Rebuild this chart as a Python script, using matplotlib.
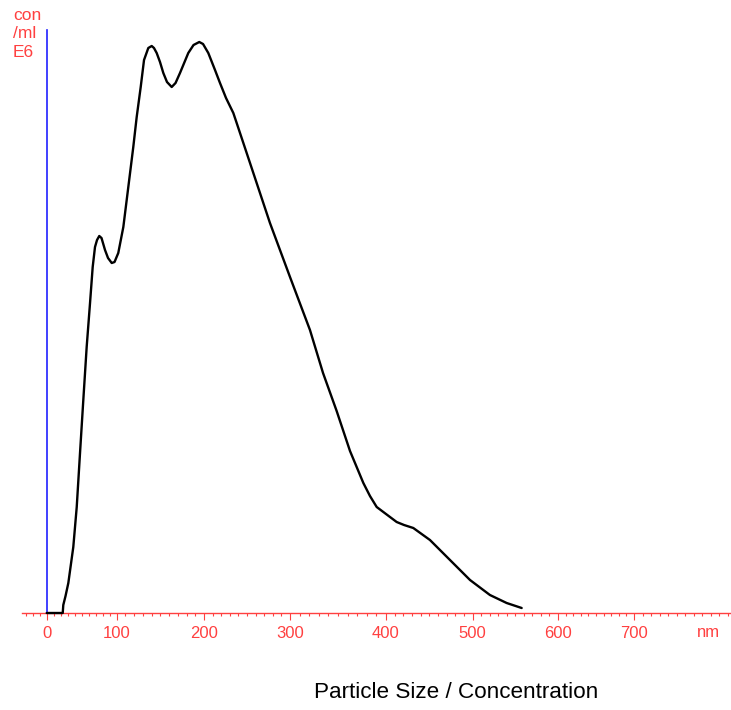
import numpy as np
import matplotlib
matplotlib.use("Agg")
import matplotlib.pyplot as plt
from matplotlib.ticker import FixedLocator

# --- data (size in nm, concentration in E6 particles/ml, arbitrary units) ---
size_nm = [0, 22.9, 23.7, 26.9, 30.9, 38.0, 42.9, 47.6, 52.3, 57.1, 61.9, 65.7,
           69.0, 71.9, 75.1, 78.3, 83.3, 87.6, 92.9, 96.9, 101.8, 107.6, 113.3,
           119.0, 122.9, 127.5, 131.3, 136.2, 140.1, 142.7, 145.8, 149.6,
           153.4, 157.6, 163.0, 167.4, 172.5, 182.0, 188.0, 194.6, 198.9, 205.0,
           212.8, 218.6, 225.6, 234.1, 238.0, 253.5, 276.7, 300.0, 320.8, 334.4,
           348.6, 362.5, 376.4, 383.3, 390.3, 400.0, 412.3, 420.8, 431.5, 450.7,
           473.8, 496.9, 520.2, 539.8, 557.4]
concentration = [0, 0, 0.08, 0.17, 0.30, 0.66, 1.06, 1.60, 2.13, 2.66, 3.10, 3.46,
                 3.66, 3.73, 3.77, 3.75, 3.63, 3.55, 3.50, 3.51, 3.60, 3.86, 4.26,
                 4.66, 4.96, 5.26, 5.53, 5.65, 5.67, 5.65, 5.60, 5.51,
                 5.40, 5.31, 5.26, 5.30, 5.40, 5.60, 5.68, 5.71, 5.69, 5.60,
                 5.43, 5.30, 5.15, 5.00, 4.90, 4.50, 3.90, 3.36, 2.83, 2.40,
                 2.02, 1.62, 1.30, 1.17, 1.06, 0.99, 0.91, 0.88, 0.85, 0.73,
                 0.53, 0.33, 0.18, 0.10, 0.05]
tick_values = [0, 100, 200, 300, 400, 500, 600, 700]
tick_labels = ["0", "100", "200", "300", "400", "500", "600", "700"]
y_unit_lines = ["con", "/ml", "E6"]
x_unit = "nm"
title = "Particle Size / Concentration"

# non-uniform axis of the original instrument software (tick spacing)
_scale_nm = np.array([-100, 0, 100, 200, 300, 400, 500, 600, 700, 900])
_scale_px = np.array([-23.3, 46.7, 116.7, 204, 290, 386, 472.7, 558, 634, 804])

def fwd(x):
    return np.interp(x, _scale_nm, _scale_px)

def inv(p):
    return np.interp(p, _scale_px, _scale_nm)

RED = "#ff4040"
BLUE = "#2020ff"

W, H = 731, 710
fig = plt.figure(figsize=(W / 100, H / 100), dpi=100)
ax = fig.add_axes([22 / W, (H - 613) / H, (W - 22) / W, (613 - 30) / H])
ax.set_xscale("function", functions=(fwd, inv))
ax.set_xlim(float(inv(22)), float(inv(W)))
ax.set_ylim(0, 5.83)

ax.plot(size_nm, concentration, color="black", lw=1.7, solid_joinstyle="round",
        solid_capstyle="round", zorder=3, clip_on=False)

for s in ("top", "right"):
    ax.spines[s].set_visible(False)
ax.spines["bottom"].set_color(RED)
ax.spines["bottom"].set_linewidth(1.0)
ax.spines["left"].set_color(BLUE)
ax.spines["left"].set_linewidth(1.2)
ax.spines["left"].set_position(("data", 0))
ax.set_yticks([])

ax.xaxis.set_major_locator(FixedLocator(tick_values))
ax.set_xticklabels(tick_labels, fontfamily="Liberation Sans", fontsize=12, color=RED)
ax.xaxis.set_minor_locator(FixedLocator(np.arange(-30, 900, 10)))
ax.tick_params(axis="x", which="major", length=5, width=0.8, color=RED, pad=4,
               direction="out")
ax.tick_params(axis="x", which="minor", length=2.2, width=0.8, color=RED,
               direction="out")

# unit labels
for i, t in enumerate(y_unit_lines):
    fig.text(13 / W, 1 - (20 + 18.5 * i) / H, t, color=RED, fontsize=12.5,
             fontfamily="Liberation Sans", ha="left", va="baseline")
fig.text(708 / W, 1 - 637 / H, x_unit, color=RED, fontsize=12,
         fontfamily="Liberation Sans", ha="center", va="baseline")

fig.text(456 / W, 1 - 698 / H, title, color="black", fontsize=16.2,
         fontfamily="Liberation Sans", ha="center", va="baseline")

fig.savefig("out.png", dpi=100)
